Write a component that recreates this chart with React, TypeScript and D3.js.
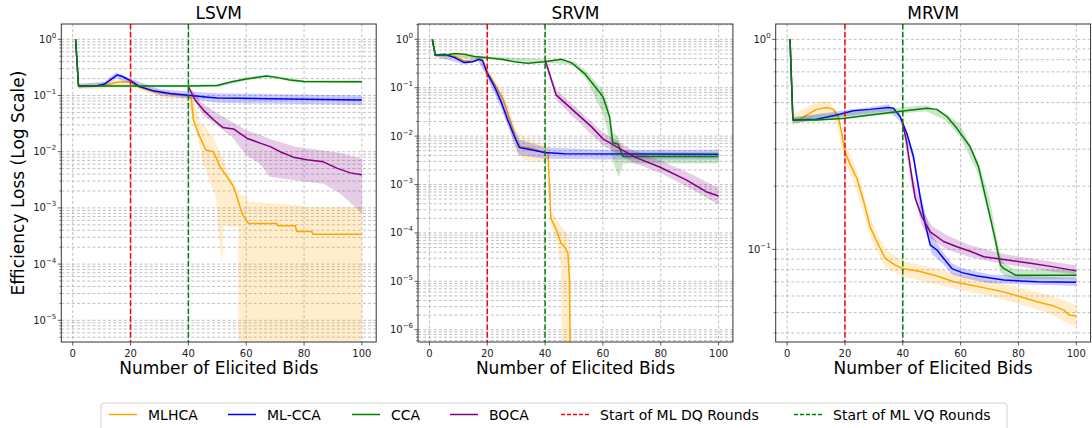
import React from "react";
import * as d3 from "d3";

// x axis: number of elicited bids
const BID_TICKS = [0, 20, 40, 60, 80, 100];
const DQ_START = 20;
const VQ_START = 40;

const METHODS = ["MLHCA", "ML-CCA", "CCA", "BOCA"];
const METHOD_COLORS = ["orange", "blue", "green", "purple"];

type Pt = [number, number]; // [bid, mean efficiency loss]
type Band = [number, number, number]; // [bid, lower, upper]

// ---- LSVM ----
const lsvmMlhca: Pt[] = [[1, 1.0], [2, 0.148], [8, 0.148], [12, 0.155], [15, 0.17], [17, 0.176], [20, 0.172], [23, 0.14], [27, 0.12], [32, 0.108], [36, 0.102], [40, 0.098], [41, 0.09], [41.7, 0.037], [43.5, 0.021], [46, 0.0107], [48.7, 0.01], [51, 0.0053], [54.2, 0.0031], [55.6, 0.0024], [58.8, 0.00075], [60.8, 0.00053], [70.6, 0.00053], [71, 0.00048], [77, 0.00048], [77.5, 0.00038], [82.7, 0.00038], [83, 0.00034], [100, 0.00034]];
const lsvmMlhcaBand: Band[] = [[1, 1, 1], [2, 0.13, 0.165], [10, 0.13, 0.17], [17, 0.155, 0.195], [20, 0.155, 0.19], [25, 0.115, 0.15], [30, 0.095, 0.125], [35, 0.088, 0.112], [40, 0.088, 0.11], [41.7, 0.032, 0.083], [44, 0.012, 0.034], [45, 0.0063, 0.03], [48.7, 0.002, 0.0185], [49.6, 0.0015, 0.014], [50.5, 0.0003, 0.011], [51.8, 0.0001, 0.008], [52.1, 0.00053, 0.0075], [53.8, 0.00046, 0.004], [55.5, 0.00046, 0.0028], [57.3, 0.00046, 0.0019], [57.5, 1e-9, 0.0018], [59.6, 1e-9, 0.0016], [60.8, 1e-9, 0.00129], [70.6, 1e-9, 0.00119], [78.7, 1e-9, 0.00112], [80, 1e-9, 0.00104], [100, 1e-9, 0.00104]];
const lsvmMlcca: Pt[] = [[1, 1.0], [2, 0.148], [8, 0.148], [11, 0.16], [13, 0.19], [15.4, 0.232], [17, 0.22], [20, 0.183], [23.3, 0.143], [27.8, 0.122], [33.7, 0.109], [40, 0.101], [46, 0.094], [50, 0.09], [80, 0.086], [100, 0.083]];
const lsvmMlccaBand: Band[] = [[1, 1, 1], [2, 0.135, 0.16], [11, 0.145, 0.175], [15, 0.2, 0.26], [20, 0.165, 0.2], [30, 0.1, 0.13], [40, 0.088, 0.118], [50, 0.074, 0.11], [100, 0.068, 0.1]];
const lsvmCca: Pt[] = [[1, 1.0], [2, 0.148], [40, 0.148], [50, 0.15], [53, 0.165], [55, 0.176], [60, 0.197], [67, 0.222], [70.6, 0.21], [75, 0.189], [80, 0.178], [100, 0.176]];
const lsvmCcaBand: Band[] = [[1, 1, 1], [2, 0.14, 0.155], [40, 0.14, 0.156], [50, 0.14, 0.16], [60, 0.185, 0.21], [67, 0.21, 0.235], [80, 0.167, 0.187], [100, 0.167, 0.186]];
const lsvmBoca: Pt[] = [[40, 0.143], [42.3, 0.083], [45.2, 0.055], [48.7, 0.037], [51.9, 0.027], [55.6, 0.0254], [60.2, 0.0174], [64.8, 0.0142], [68.3, 0.0123], [71.7, 0.01], [76.3, 0.008], [81, 0.0072], [86.7, 0.0066], [91.3, 0.0051], [96, 0.0042], [100, 0.0039]];
const lsvmBocaBand: Band[] = [[40, 0.13, 0.155], [45, 0.045, 0.07], [55, 0.0185, 0.034], [60, 0.0087, 0.024], [65, 0.006, 0.0198], [68, 0.0036, 0.017], [77, 0.0031, 0.0123], [86.7, 0.0027, 0.0105], [92.5, 0.0018, 0.0095], [100, 0.0008, 0.0076]];

// ---- SRVM ----
const srvmMlhca: Pt[] = [[1, 1.0], [2, 0.47], [5, 0.47], [9, 0.44], [12, 0.36], [15, 0.345], [17.3, 0.39], [18.5, 0.37], [20, 0.21], [22.5, 0.12], [25.7, 0.055], [28, 0.02], [30, 0.0085], [31.5, 0.006], [35, 0.0056], [40, 0.0046], [41, 0.0045], [42, 0.0002], [43.7, 0.000124], [45.5, 0.000061], [46.7, 0.000052], [47.9, 0.000038], [48.4, 0.000011], [49.2, 1e-9]];
const srvmMlhcaBand: Band[] = [[1, 1, 1], [2, 0.43, 0.5], [10, 0.4, 0.48], [17, 0.35, 0.42], [20, 0.17, 0.25], [25, 0.04, 0.09], [28, 0.012, 0.03], [30, 0.0045, 0.013], [33, 0.0032, 0.009], [40, 0.003, 0.0065], [41.5, 0.003, 0.0062], [42, 0.00015, 0.00028], [44, 0.00007, 0.00019], [45.5, 0.00002, 0.00014], [46, 1e-9, 0.00013], [48, 1e-9, 0.00009], [48.8, 1e-9, 0.00005], [49.2, 1e-9, 1e-9]];
const srvmMlcca: Pt[] = [[1, 1.0], [2, 0.47], [5.2, 0.49], [8.7, 0.42], [12.1, 0.33], [15, 0.345], [17.3, 0.386], [18.4, 0.36], [20, 0.198], [22.5, 0.105], [24.8, 0.051], [27.1, 0.0216], [29.4, 0.0098], [31.1, 0.0058], [35.2, 0.0052], [39.8, 0.0046], [46.7, 0.0043], [100, 0.0042]];
const srvmMlccaBand: Band[] = [[1, 1, 1], [2, 0.44, 0.5], [12, 0.3, 0.36], [17, 0.35, 0.42], [20, 0.16, 0.24], [25, 0.035, 0.07], [29, 0.008, 0.016], [31, 0.004, 0.0085], [40, 0.0034, 0.0058], [60, 0.0033, 0.0052], [100, 0.0033, 0.0052]];
const srvmCca: Pt[] = [[1, 1.0], [2, 0.474], [5.2, 0.47], [8.7, 0.51], [12.1, 0.49], [15.6, 0.44], [20, 0.417], [24.8, 0.386], [29.4, 0.345], [34, 0.32], [39.8, 0.345], [45.6, 0.386], [49, 0.33], [53.6, 0.198], [58.2, 0.09], [60, 0.065], [62.3, 0.025], [63.4, 0.0073], [65.2, 0.0069], [66.9, 0.0038], [100, 0.0038]];
const srvmCcaBand: Band[] = [[1, 1, 1], [2, 0.45, 0.5], [50, 0.3, 0.36], [55, 0.13, 0.2], [58, 0.05, 0.12], [60, 0.03, 0.09], [62, 0.01, 0.04], [63.5, 0.003, 0.012], [65.5, 0.0014, 0.009], [67, 0.0027, 0.0048], [100, 0.0027, 0.0047]];
const srvmBoca: Pt[] = [[40, 0.345], [40.4, 0.32], [43.8, 0.071], [50.2, 0.032], [56, 0.0157], [60, 0.0088], [65.7, 0.0056], [71.5, 0.0036], [79.6, 0.0023], [88.8, 0.00125], [95.7, 0.00071], [100, 0.00058]];
const srvmBocaBand: Band[] = [[40, 0.3, 0.38], [44, 0.055, 0.09], [50, 0.024, 0.042], [60, 0.0065, 0.012], [70, 0.0029, 0.0052], [80, 0.0017, 0.0031], [90, 0.00085, 0.0017], [100, 0.00038, 0.00085]];

// ---- MRVM ----
const mrvmMlhca: Pt[] = [[1, 1.0], [2, 0.413], [4.4, 0.416], [6.7, 0.436], [10.2, 0.464], [13.7, 0.474], [16, 0.464], [17.7, 0.428], [18.9, 0.357], [20, 0.291], [21.7, 0.256], [24.1, 0.218], [26.4, 0.171], [28.7, 0.128], [31, 0.109], [33.9, 0.0907], [37.4, 0.0842], [40, 0.081], [46, 0.0784], [51.8, 0.0747], [57.6, 0.0701], [63.3, 0.0677], [69.1, 0.0652], [74.9, 0.0627], [80.7, 0.0595], [86.5, 0.0563], [92.2, 0.0537], [95.7, 0.0514], [97.5, 0.0487], [100, 0.0482]];
const mrvmMlhcaBand: Band[] = [[1, 1, 1], [2, 0.39, 0.44], [10, 0.43, 0.5], [14, 0.44, 0.51], [17, 0.4, 0.46], [20, 0.26, 0.32], [24, 0.195, 0.24], [28.7, 0.115, 0.142], [31, 0.098, 0.12], [34, 0.082, 0.1], [40, 0.074, 0.088], [50, 0.069, 0.082], [60, 0.064, 0.076], [70, 0.06, 0.071], [80, 0.055, 0.066], [90, 0.05, 0.061], [97.5, 0.044, 0.056], [100, 0.043, 0.054]];
const mrvmMlcca: Pt[] = [[1, 1.0], [2, 0.413], [10.2, 0.416], [17.1, 0.436], [22.9, 0.457], [28.7, 0.464], [35, 0.474], [36.8, 0.47], [39.1, 0.428], [41.4, 0.357], [43.7, 0.276], [46, 0.178], [47.7, 0.133], [49.5, 0.105], [51.8, 0.0993], [54.1, 0.0907], [57, 0.081], [60.5, 0.0775], [65.7, 0.0747], [74.9, 0.0714], [86.5, 0.0701], [100, 0.0697]];
const mrvmMlccaBand: Band[] = [[1, 1, 1], [2, 0.4, 0.426], [20, 0.43, 0.46], [35, 0.455, 0.49], [39, 0.41, 0.445], [43.7, 0.26, 0.29], [46, 0.16, 0.19], [48, 0.12, 0.145], [50, 0.095, 0.118], [54, 0.085, 0.097], [57, 0.076, 0.086], [61, 0.073, 0.081], [70, 0.069, 0.076], [100, 0.067, 0.073]];
const mrvmCca: Pt[] = [[1, 1.0], [2, 0.413], [10.2, 0.413], [19.4, 0.42], [28.7, 0.436], [37.9, 0.452], [48.3, 0.47], [51.8, 0.464], [55.3, 0.428], [58.7, 0.377], [63.3, 0.308], [66.2, 0.247], [69.1, 0.166], [72, 0.111], [73.8, 0.084], [74.9, 0.0812], [79, 0.0754], [100, 0.0754]];
const mrvmCcaBand: Band[] = [[1, 1, 1], [2, 0.4, 0.426], [48, 0.455, 0.485], [55, 0.41, 0.445], [60, 0.34, 0.39], [66, 0.23, 0.265], [70, 0.14, 0.175], [73.8, 0.078, 0.092], [75, 0.075, 0.086], [79, 0.072, 0.08], [100, 0.072, 0.08]];
const mrvmBoca: Pt[] = [[40, 0.398], [41.4, 0.32], [43.1, 0.222], [44.3, 0.175], [46.6, 0.143], [49.5, 0.121], [54.1, 0.109], [58.7, 0.103], [63.3, 0.098], [68, 0.0922], [74.9, 0.0894], [84.2, 0.0858], [91.1, 0.083], [100, 0.079]];
const mrvmBocaBand: Band[] = [[40, 0.38, 0.42], [43, 0.2, 0.24], [46.6, 0.13, 0.155], [50, 0.112, 0.13], [55, 0.1, 0.117], [63, 0.092, 0.105], [75, 0.085, 0.095], [90, 0.079, 0.088], [100, 0.076, 0.084]];

const PANELS = [
  { title: "LSVM", left: 61.3, yDomain: [Math.pow(10, -5.386), Math.pow(10, 0.272)], majors: [0, -1, -2, -3, -4, -5], lines: [lsvmMlhca, lsvmMlcca, lsvmCca, lsvmBoca], bands: [lsvmMlhcaBand, lsvmMlccaBand, lsvmCcaBand, lsvmBocaBand] },
  { title: "SRVM", left: 418, yDomain: [Math.pow(10, -6.254), Math.pow(10, 0.316)], majors: [0, -1, -2, -3, -4, -5, -6], lines: [srvmMlhca, srvmMlcca, srvmCca, srvmBoca], bands: [srvmMlhcaBand, srvmMlccaBand, srvmCcaBand, srvmBocaBand] },
  { title: "MRVM", left: 775.7, yDomain: [Math.pow(10, -1.441), Math.pow(10, 0.073)], majors: [0, -1], lines: [mrvmMlhca, mrvmMlcca, mrvmCca, mrvmBoca], bands: [mrvmMlhcaBand, mrvmMlccaBand, mrvmCcaBand, mrvmBocaBand] },
];

const W = 1092;
const H = 428;
const TOP = 24;
const BOTTOM = 342;
const PANEL_W = 314.9;
const FONT = "DejaVu Sans, sans-serif";

const Panel = ({ p, idx }: { p: any; idx: number }) => {
  const x = d3.scaleLinear().domain([-3.95, 104.95]).range([p.left, p.left + PANEL_W]);
  const y = d3.scaleLog().domain(p.yDomain).range([BOTTOM, TOP]);
  const [lo, hi] = p.yDomain;

  const minors: number[] = [];
  for (let e = Math.floor(Math.log10(lo)); e <= Math.ceil(Math.log10(hi)); e++) {
    for (let k = 2; k <= 9; k++) {
      const v = k * Math.pow(10, e);
      if (v >= lo && v <= hi) minors.push(v);
    }
  }
  const majors = p.majors.map((e: number) => Math.pow(10, e));

  const line = d3
    .line<Pt>()
    .x(d => x(d[0]))
    .y(d => y(Math.max(d[1], 1e-12)));
  const area = d3
    .area<Band>()
    .x(d => x(d[0]))
    .y0(d => y(Math.max(d[1], 1e-12)))
    .y1(d => y(Math.max(d[2], 1e-12)));

  const clipId = `clip-${idx}`;
  const cx = p.left + PANEL_W / 2;
  const gridStyle = { stroke: "#b0b0b0", strokeWidth: 0.8, strokeDasharray: "3,2.2" };

  return (
    <g>
      <defs>
        <clipPath id={clipId}>
          <rect x={p.left} y={TOP} width={PANEL_W} height={BOTTOM - TOP} />
        </clipPath>
      </defs>

      {/* grid */}
      {BID_TICKS.map(t => (
        <line key={`gx${t}`} x1={x(t)} x2={x(t)} y1={TOP} y2={BOTTOM} {...gridStyle} />
      ))}
      {[...majors, ...minors].map((v: number, i: number) => (
        <line key={`gy${i}`} x1={p.left} x2={p.left + PANEL_W} y1={y(v)} y2={y(v)} {...gridStyle} />
      ))}

      <g clipPath={`url(#${clipId})`}>
        {p.lines.map((pts: Pt[], i: number) => (
          <g key={i}>
            <path d={area(p.bands[i]) || ""} fill={METHOD_COLORS[i]} fillOpacity={0.2} stroke="none" />
            <path d={line(pts) || ""} fill="none" stroke={METHOD_COLORS[i]} strokeWidth={1.5} strokeLinejoin="round" />
          </g>
        ))}
        <line x1={x(DQ_START)} x2={x(DQ_START)} y1={TOP} y2={BOTTOM} stroke="red" strokeWidth={1.5} strokeDasharray="5.5,2.4" />
        <line x1={x(VQ_START)} x2={x(VQ_START)} y1={TOP} y2={BOTTOM} stroke="green" strokeWidth={1.5} strokeDasharray="5.5,2.4" />
      </g>

      {/* frame */}
      <rect x={p.left} y={TOP} width={PANEL_W} height={BOTTOM - TOP} fill="none" stroke="#333" strokeWidth={1} />

      {/* x ticks */}
      {BID_TICKS.map(t => (
        <g key={`tx${t}`}>
          <line x1={x(t)} x2={x(t)} y1={BOTTOM} y2={BOTTOM + 3.5} stroke="#333" strokeWidth={0.8} />
          <text x={x(t)} y={BOTTOM + 14.5} textAnchor="middle" fontSize={10} fill="#222">{t}</text>
        </g>
      ))}

      {/* y ticks */}
      {minors.map((v, i) => (
        <line key={`my${i}`} x1={p.left - 2} x2={p.left} y1={y(v)} y2={y(v)} stroke="#333" strokeWidth={0.6} />
      ))}
      {p.majors.map((e: number) => (
        <g key={`ty${e}`}>
          <line x1={p.left - 3.5} x2={p.left} y1={y(Math.pow(10, e))} y2={y(Math.pow(10, e))} stroke="#333" strokeWidth={0.8} />
          <text x={p.left - 5} y={y(Math.pow(10, e)) + 3.5} textAnchor="end" fontSize={10} fill="#222">
            10<tspan dy={-5} fontSize={7}>{e === 0 ? "0" : `\u2212${-e}`}</tspan>
          </text>
        </g>
      ))}

      <text x={cx} y={19} textAnchor="middle" fontSize={17} fill="#000">{p.title}</text>
      <text x={cx} y={374} textAnchor="middle" fontSize={17} fill="#000">Number of Elicited Bids</text>
    </g>
  );
};

const LEGEND_X = [109, 228, 352, 450, 561, 794];

const App = () => {
  const legendItems = [
    ...METHODS.map((m, i) => ({ label: m, color: METHOD_COLORS[i], dash: undefined as string | undefined })),
    { label: "Start of ML DQ Rounds", color: "red", dash: "4,2" },
    { label: "Start of ML VQ Rounds", color: "green", dash: "4,2" },
  ];
  return (
    <svg width={W} height={H} style={{ position: "absolute", left: 0, top: 0, background: "#fff" }} fontFamily={FONT}>
      <rect width={W} height={H} fill="#fff" />
      {PANELS.map((p, i) => (
        <Panel key={p.title} p={p} idx={i} />
      ))}
      <text transform={`translate(24,${(TOP + BOTTOM) / 2}) rotate(-90)`} textAnchor="middle" fontSize={17} fill="#000">
        Efficiency Loss (Log Scale)
      </text>

      <rect x={101} y={403} width={906} height={30} rx={3} fill="#fff" stroke="#d0d0d0" strokeWidth={1} />
      {legendItems.map((it, i) => (
        <g key={it.label}>
          <line x1={LEGEND_X[i]} x2={LEGEND_X[i] + 28} y1={414.5} y2={414.5} stroke={it.color} strokeWidth={1.5} strokeDasharray={it.dash} />
          <text x={LEGEND_X[i] + 39} y={419.5} fontSize={14} fill="#000">{it.label}</text>
        </g>
      ))}
    </svg>
  );
};

export default App;
